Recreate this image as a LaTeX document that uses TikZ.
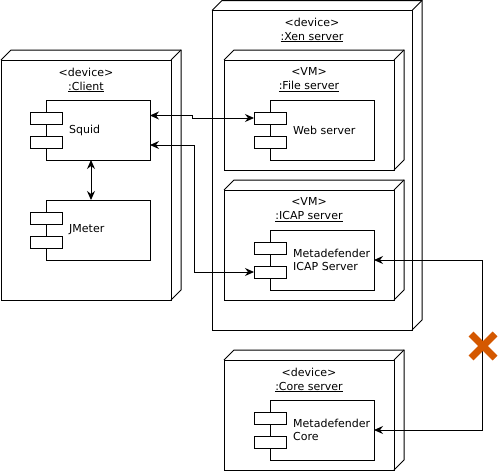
\documentclass[tikz,border=0pt]{standalone}
\usepackage{fontspec}
\setmainfont{DejaVu Sans}
\usetikzlibrary{arrows.meta}
\definecolor{crossorange}{RGB}{212,88,0}
\tikzset{
  x=1pt, y=-1pt,
  edge/.style={line width=1pt, line join=miter},
  frontface/.style={draw, line width=1pt, inner sep=0pt, outer sep=0pt, anchor=north west},
  compbox/.style={draw, line width=1pt, fill=white, inner sep=0pt, outer sep=0pt, anchor=north west, minimum width=104pt, minimum height=60pt},
  portbox/.style={draw, line width=1pt, fill=white, inner sep=0pt, outer sep=0pt, anchor=north west, minimum width=32pt, minimum height=12pt},
  lbl/.style={font=\fontsize{11}{14}\selectfont, align=center, inner sep=0pt},
  complbl/.style={font=\fontsize{11}{13.5}\selectfont, align=left, inner sep=0pt, anchor=west},
  conn/.style={line width=1pt, {Stealth[length=9pt,width=8pt,inset=3pt]}-{Stealth[length=9pt,width=8pt,inset=3pt]}},
}
\newcommand{\DevBox}[5]{%
  \node[frontface, minimum width=#4pt, minimum height=#5pt] (#1) at (#2,#3) {};
  \draw[edge] (#1.north west) -- ++(10,-10) -| ([shift={(10pt,10pt)}]#1.south east) -- (#1.south east);
  \draw[edge] (#1.north east) -- ++(10,-10);
}
\newcommand{\CompBox}[4]{%
  \node[compbox] (#1) at (#2,#3) {};
  \node[portbox] (#1a) at (#2-16,#3+12) {};
  \node[portbox] (#1b) at (#2-16,#3+36) {};
  \node[complbl] (#1t) at ([xshift=23pt]#1.west) {#4};
}
\begin{document}
\begin{tikzpicture}
\useasboundingbox (0,0) rectangle (500,471);

% devices
\DevBox{client}{1}{60}{170}{240}
\node[lbl] (clientlbl) at (86,80) {<device>\\\underline{:Client}};

\DevBox{xen}{212}{10.5}{200}{319.5}
\node[lbl] (xenlbl) at (312,30) {<device>\\\underline{:Xen server}};

\DevBox{filesrv}{224}{60}{170}{110}
\node[lbl] (filelbl) at (309,80) {<VM>\\\underline{:File server}};

\DevBox{icapsrv}{224}{190}{170}{110}
\node[lbl] (icaplbl) at (309,210) {<VM>\\\underline{:ICAP server}};

\DevBox{coresrv}{224}{360}{170}{110}
\node[lbl] (corelbl) at (309,380) {<device>\\\underline{:Core server}};

% components
\CompBox{squid}{46}{100}{Squid}
\CompBox{jmeter}{46}{200}{JMeter}
\CompBox{web}{270}{100}{Web server}
\CompBox{icap}{270}{230}{Metadefender\\ICAP Server}
\CompBox{core}{270}{400}{Metadefender\\Core}

% connectors
\draw[conn] ([xshift=-7pt]squid.south) -- ([xshift=-7pt]jmeter.north);
\draw[conn] ([yshift=14.5pt]squid.east) -- ++(42,0) |- (weba.west);
\draw[conn] ([yshift=-15pt]squid.east) -- ++(44,0) |- (icapb.west);
\draw[conn] (icap.east) -- ++(108,0) |- (core.east);

% orange cross
\coordinate (xc) at (483,346);
\draw[crossorange, line width=7pt] ([shift={(-12pt,12pt)}]xc) -- ([shift={(12pt,-12pt)}]xc);
\draw[crossorange, line width=7pt] ([shift={(-12pt,-12pt)}]xc) -- ([shift={(12pt,12pt)}]xc);
\end{tikzpicture}
\end{document}
